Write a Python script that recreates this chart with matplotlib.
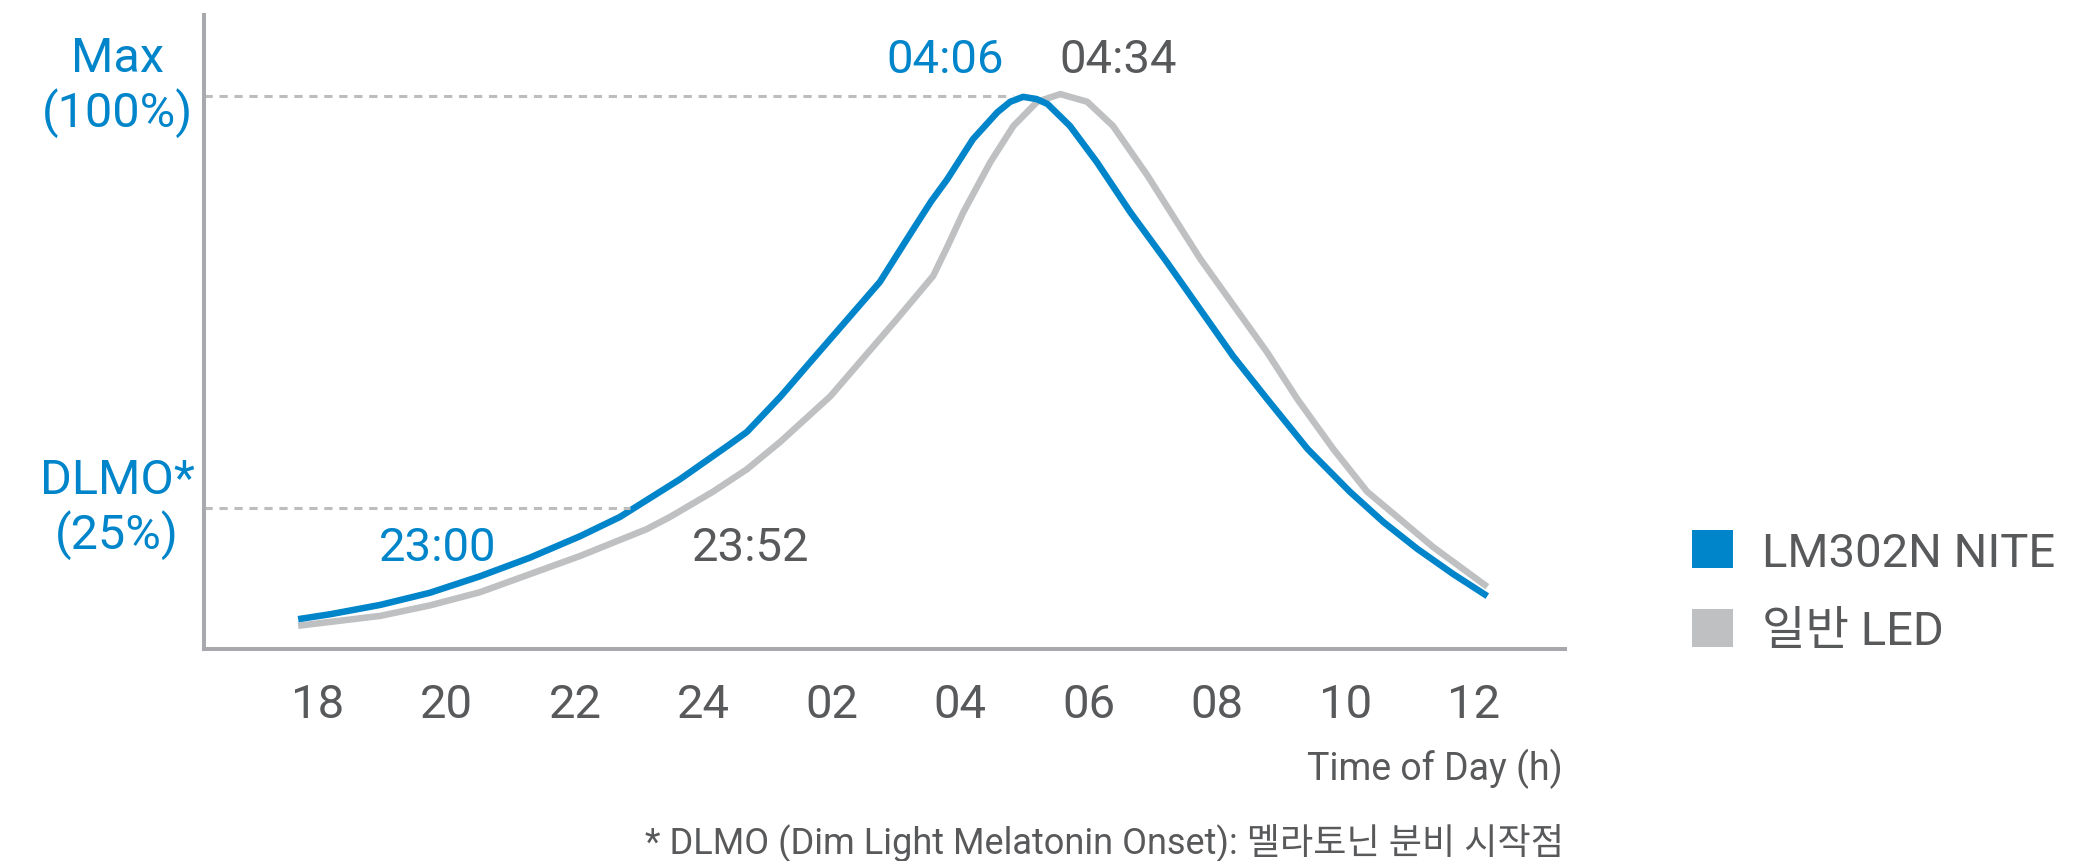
import matplotlib.pyplot as plt
from matplotlib.patches import Patch

plt.rcParams['font.family'] = ['Roboto', 'Noto Sans CJK KR', 'DejaVu Sans']

blue = "#0085ca"
gray = "#bfc0c2"
text_gray = "#58595b"

# hours after 18:00, melatonin level in % of max
hours_nite = [-0.31, 0.19, 0.97, 1.74, 2.52, 3.30, 4.08, 4.70, 5.64, 6.42, 6.68, 7.20,
              7.71, 8.75, 9.27, 9.55, 9.80, 10.20, 10.58, 10.78, 10.98, 11.19, 11.36, 11.71,
              12.13, 12.65, 13.22, 14.25, 14.78, 15.41, 16.07, 16.59, 17.12, 17.68, 18.21]
level_nite = [4.7, 5.6, 7.3, 9.5, 12.5, 15.9, 19.8, 23.3, 30.2, 36.6, 38.8, 45.2,
              52.1, 66.1, 75.7, 80.8, 84.8, 92.1, 97.0, 98.9, 99.8, 99.4, 98.5, 94.5,
              87.9, 78.8, 69.7, 52.6, 44.8, 35.7, 27.9, 22.4, 17.5, 12.9, 8.9]

hours_led = [-0.31, 0.97, 1.74, 2.52, 3.30, 4.08, 5.12, 5.48, 6.15, 6.68, 7.20, 7.98, 9.02,
             9.58, 9.80, 10.05, 10.47, 10.83, 11.20, 11.56, 11.98, 12.38, 12.91, 13.43,
             13.74, 14.78, 15.25, 15.81, 16.34, 16.85, 17.37, 18.21]
level_led = [3.5, 5.3, 7.2, 9.6, 12.9, 16.2, 21.1, 23.3, 27.9, 32.0, 37.0, 45.3, 59.4,
             67.2, 72.5, 78.8, 87.9, 94.5, 98.9, 100.3, 98.9, 94.5, 85.6, 76.0,
             70.3, 53.3, 44.8, 35.7, 27.9, 22.9, 17.8, 10.6]

tick_pos = [0, 2, 4, 6, 8, 10, 12, 14, 16, 18]
tick_labels = ["18", "20", "22", "24", "02", "04", "06", "08", "10", "12"]

onset_nite = 4.86
peak_nite = 10.83

fig = plt.figure(figsize=(20.95, 8.62), dpi=100)
ax = fig.add_axes([204/2095, (862-650)/862, (1565-204)/2095, (650-16)/862])

ax.plot(hours_led, level_led, color=gray, lw=4.7, solid_capstyle='butt', solid_joinstyle='round')
ax.plot(hours_nite, level_nite, color=blue, lw=4.7, solid_capstyle='butt', solid_joinstyle='round')

dash = dict(color="#bdbdbd", lw=2.2, linestyle=(0, (2.7, 2.2)))
ax.plot([-1.78, peak_nite], [100, 100], **dash)
ax.plot([-1.78, onset_nite], [25, 25], **dash)

ax.set_xlim(-1.776, 19.42)
ax.set_ylim(-0.73, 114.7)
for s in ["top", "right"]:
    ax.spines[s].set_visible(False)
for s in ["left", "bottom"]:
    ax.spines[s].set_color("#a7a9ac")
    ax.spines[s].set_linewidth(2.9)

ax.set_yticks([])
ax.set_xticks(tick_pos, labels=tick_labels)
ax.tick_params(axis='x', length=0, pad=24, labelsize=34, labelcolor=text_gray)

ax.text(-3.13, 101.8, "Max\n(100%)", ha='center', va='center', fontsize=35,
        color=blue, linespacing=1.15)
ax.text(-3.13, 25, "DLMO*\n(25%)", ha='center', va='center', fontsize=35,
        color=blue, linespacing=1.15)

ax.text(9.77, 106.7, "04:06", ha='center', va='center', fontsize=34, color=blue)
ax.text(12.46, 106.7, "04:34", ha='center', va='center', fontsize=34, color=text_gray)
ax.text(1.87, 17.8, "23:00", ha='center', va='center', fontsize=34, color=blue)
ax.text(6.74, 17.8, "23:52", ha='center', va='center', fontsize=34, color=text_gray)

handles = [Patch(facecolor=blue, edgecolor='none', label="LM302N NITE"),
           Patch(facecolor=gray, edgecolor='none', label="일반 LED")]
leg = fig.legend(handles=handles, loc='upper left', bbox_to_anchor=(1692/2095, 1-531/862),
                 frameon=False, fontsize=34, handlelength=0.875, handleheight=0.875,
                 handletextpad=0.6, labelspacing=0.72, borderpad=0, borderaxespad=0)
for t in leg.get_texts():
    t.set_color(text_gray)

fig.text(1563/2095, 1-769/862, "Time of Day (h)", ha='right', va='center',
         fontsize=27, color=text_gray)
fig.text(1564/2095, 1-843/862, "* DLMO (Dim Light Melatonin Onset): 멜라토닌 분비 시작점",
         ha='right', va='center', fontsize=26, color=text_gray)

fig.savefig("out.png", dpi=100)
